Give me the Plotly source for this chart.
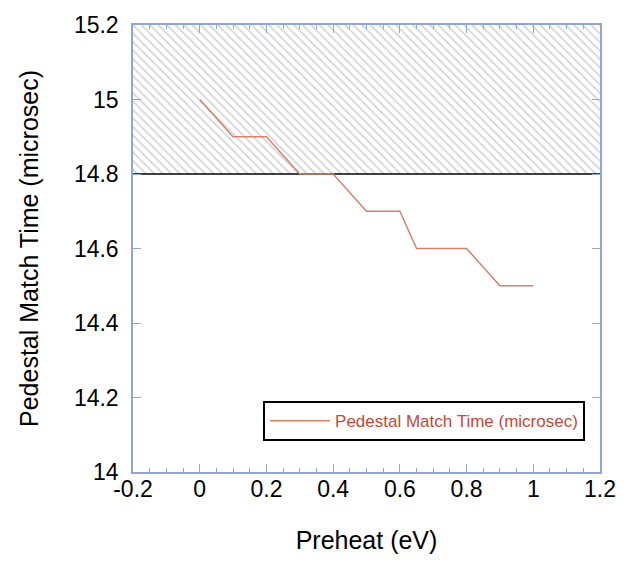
import plotly.graph_objects as go

preheat = [0, 0.1, 0.2, 0.3, 0.4, 0.5, 0.6, 0.65, 0.8, 0.9, 1.0]
match_time = [15.0, 14.9, 14.9, 14.8, 14.8, 14.7, 14.7, 14.6, 14.6, 14.5, 14.5]

region_x = [-0.2, 1.2, 1.2, -0.2, -0.2]
region_y = [14.8, 14.8, 15.2, 15.2, 14.8]
threshold_x = [-0.2, 1.2]
threshold_y = [14.8, 14.8]

x_tickvals = [-0.2, 0, 0.2, 0.4, 0.6, 0.8, 1.0, 1.2]
x_ticktext = ["-0.2", "0", "0.2", "0.4", "0.6", "0.8", "1", "1.2"]
y_tickvals = [14, 14.2, 14.4, 14.6, 14.8, 15, 15.2]
y_ticktext = ["14", "14.2", "14.4", "14.6", "14.8", "15", "15.2"]

axis_color = "#8fa6d6"
font_family = "Liberation Sans, Arial, sans-serif"

fig = go.Figure()
fig.add_trace(go.Scatter(
    x=region_x, y=region_y, mode="lines", fill="toself",
    line=dict(width=0, color="rgba(0,0,0,0)"),
    fillcolor="rgba(0,0,0,0)",
    fillpattern=dict(shape="\\", fgcolor="#a0a0a0", bgcolor="white", size=6, solidity=0.25),
    showlegend=False, hoverinfo="skip"))
fig.add_trace(go.Scatter(
    x=threshold_x, y=threshold_y, mode="lines",
    line=dict(color="black", width=1.5), showlegend=False, hoverinfo="skip"))
fig.add_trace(go.Scatter(
    x=preheat, y=match_time, mode="lines",
    line=dict(color="#d4826e", width=1.5),
    name="Pedestal Match Time (microsec)"))

fig.update_layout(
    width=634, height=563,
    margin=dict(l=133, r=34, t=23, b=91),
    paper_bgcolor="white", plot_bgcolor="white",
    font=dict(family=font_family, size=23, color="black"),
    legend=dict(x=0.968, y=0.069, xanchor="right", yanchor="bottom",
                bgcolor="white", bordercolor="black", borderwidth=2,
                itemwidth=60,
                font=dict(size=17, color="#c4493a", family=font_family)),
    xaxis=dict(range=[-0.2, 1.2], tickvals=x_tickvals, ticktext=x_ticktext,
               showline=True, mirror="allticks",
               linecolor=axis_color, linewidth=1.5, ticks="inside", ticklen=8,
               tickcolor=axis_color, showgrid=False, zeroline=False,
               minor=dict(dtick=0.05, tick0=0, ticks="inside", ticklen=4, tickcolor=axis_color),
               tickfont=dict(size=23), ticklabelstandoff=-4,
               title=dict(text="Preheat (eV)", font=dict(size=25), standoff=30)),
    yaxis=dict(range=[14, 15.2], tickvals=y_tickvals, ticktext=y_ticktext,
               showline=True, mirror="allticks",
               linecolor=axis_color, linewidth=1.5, ticks="inside", ticklen=8,
               tickcolor=axis_color, showgrid=False, zeroline=False,
               tickfont=dict(size=23), ticklabelstandoff=8,
               title=dict(text="Pedestal Match Time (microsec)", font=dict(size=25), standoff=28)),
)

fig.write_html("out.html")
